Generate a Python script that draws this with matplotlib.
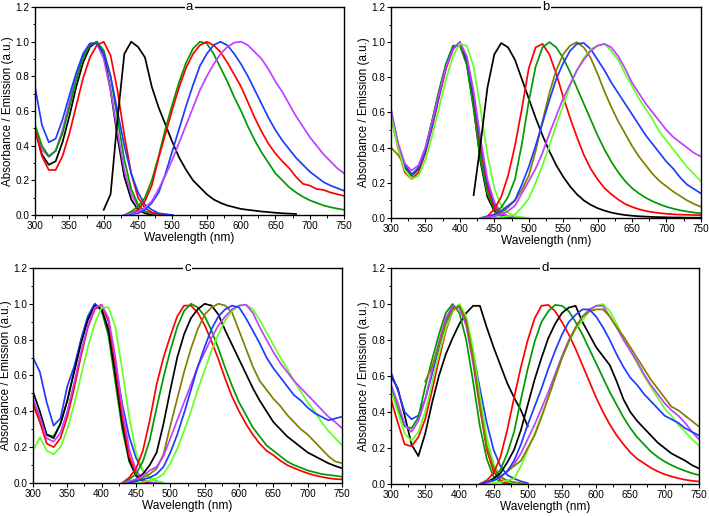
import numpy as np
import matplotlib
matplotlib.use('Agg')
import matplotlib.pyplot as plt
from matplotlib.ticker import MultipleLocator

plt.rcParams['font.family'] = ['Liberation Sans', 'DejaVu Sans']

N = None
ABS_WL = [300, 310, 320, 330, 340, 350, 360, 370, 380, 390, 400,
          410, 420, 430, 440, 450, 460, 470, 480, 490, 500]
EM_WL = [400, 410, 420, 430, 440, 450, 460, 470, 480, 490, 500, 510,
         520, 530, 540, 550, 560, 570, 580, 590, 600, 610, 620, 630,
         640, 650, 660, 670, 680, 690, 700, 710, 720, 730, 740, 750]

# ---------------- panel a ----------------
a_abs_blue = [0.74, 0.52, 0.42, 0.44, 0.55, 0.69, 0.82, 0.93, 0.99, 0.99, 0.93, 0.80, 0.60, 0.40, 0.24, 0.13, 0.06, 0.03, 0.01, 0.005, 0.0]
a_abs_green = [0.52, 0.40, 0.34, 0.37, 0.47, 0.62, 0.78, 0.91, 0.98, 1.00, 0.95, 0.80, 0.56, 0.32, 0.15, 0.06, 0.02, 0.01, 0.005, 0.0, 0.0]
a_abs_purple = [0.50, 0.38, 0.335, 0.37, 0.49, 0.65, 0.80, 0.93, 0.99, 0.99, 0.90, 0.72, 0.48, 0.26, 0.12, 0.05, 0.02, 0.01, 0.005, 0.0, 0.0]
a_abs_black = [0.50, 0.35, 0.29, 0.31, 0.42, 0.57, 0.74, 0.88, 0.97, 1.00, 0.93, 0.72, 0.45, 0.22, 0.09, 0.03, 0.01, 0.0, 0.0, 0.0, 0.0]
a_abs_red = [0.49, 0.34, 0.26, 0.26, 0.34, 0.47, 0.63, 0.79, 0.91, 0.98, 1.00, 0.92, 0.72, 0.46, 0.24, 0.10, 0.04, 0.015, 0.005, 0.0, 0.0]

a_em_black = [0.03, 0.12, 0.55, 0.93, 1.00, 0.97, 0.91, 0.74, 0.62, 0.52, 0.42, 0.33, 0.26, 0.20, 0.16, 0.12, 0.09, 0.07, 0.055, 0.045, 0.035, 0.03, 0.025, 0.02, 0.017, 0.013, 0.01, 0.008, 0.006, N, N, N, N, N, N, N]
a_em_green = [N, N, N, 0.0, 0.02, 0.05, 0.10, 0.20, 0.34, 0.50, 0.64, 0.77, 0.88, 0.96, 1.00, 0.99, 0.93, 0.85, 0.77, 0.68, 0.60, 0.51, 0.43, 0.36, 0.30, 0.24, 0.20, 0.16, 0.13, 0.105, 0.085, 0.07, 0.055, 0.045, 0.037, 0.03]
a_em_red = [N, N, N, 0.0, 0.01, 0.03, 0.08, 0.17, 0.33, 0.47, 0.61, 0.74, 0.85, 0.93, 0.98, 1.00, 0.98, 0.94, 0.88, 0.81, 0.74, 0.65, 0.56, 0.48, 0.41, 0.355, 0.31, 0.27, 0.22, 0.18, 0.17, 0.15, 0.145, 0.13, 0.12, 0.11]
a_em_blue = [N, N, N, 0.0, 0.005, 0.01, 0.03, 0.07, 0.13, 0.24, 0.37, 0.50, 0.63, 0.75, 0.86, 0.93, 0.98, 1.00, 0.98, 0.93, 0.87, 0.80, 0.72, 0.64, 0.56, 0.49, 0.43, 0.38, 0.33, 0.29, 0.25, 0.22, 0.19, 0.17, 0.155, 0.14]
a_em_purple = [N, N, N, 0.0, 0.01, 0.02, 0.04, 0.08, 0.15, 0.23, 0.32, 0.42, 0.52, 0.62, 0.72, 0.80, 0.87, 0.93, 0.97, 0.995, 1.00, 0.98, 0.94, 0.90, 0.84, 0.77, 0.71, 0.64, 0.57, 0.51, 0.45, 0.40, 0.35, 0.31, 0.27, 0.24]

# ---------------- panel b ----------------
b_abs_dgreen = [0.60, 0.42, 0.30, 0.24, 0.29, 0.40, 0.56, 0.73, 0.88, 0.98, 0.98, 0.87, 0.62, 0.33, 0.14, 0.05, 0.015, 0.005, 0.0, N, N]
b_abs_black = [0.60, 0.42, 0.29, 0.24, 0.28, 0.39, 0.55, 0.72, 0.87, 0.97, 0.99, 0.88, 0.63, 0.32, 0.12, 0.04, 0.01, 0.0, N, N, N]
b_abs_red = [0.58, 0.40, 0.26, 0.22, 0.26, 0.37, 0.52, 0.69, 0.85, 0.96, 1.00, 0.91, 0.70, 0.41, 0.18, 0.06, 0.02, 0.005, 0.0, N, N]
b_abs_purple = [0.62, 0.43, 0.31, 0.27, 0.30, 0.40, 0.55, 0.71, 0.86, 0.96, 1.00, 0.92, 0.72, 0.45, 0.22, 0.09, 0.03, 0.01, 0.005, 0.0, N]
b_abs_blue = [0.60, 0.42, 0.30, 0.25, 0.28, 0.38, 0.53, 0.70, 0.86, 0.96, 1.00, 0.91, 0.70, 0.43, 0.20, 0.08, 0.03, 0.01, 0.0, N, N]
b_abs_olive = [0.40, 0.36, 0.30, 0.24, 0.28, 0.39, 0.55, 0.72, 0.87, 0.97, 0.99, 0.90, 0.67, 0.38, 0.16, 0.06, 0.02, 0.005, 0.0, N, N]
b_abs_lgreen = [0.58, 0.40, 0.27, 0.22, 0.24, 0.33, 0.47, 0.63, 0.79, 0.92, 0.99, 0.98, 0.86, 0.62, 0.36, 0.17, 0.07, 0.03, 0.01, 0.005, 0.0]

b_em_black = [N, N, 0.13, 0.42, 0.74, 0.93, 0.995, 0.97, 0.90, 0.79, 0.68, 0.57, 0.47, 0.38, 0.30, 0.235, 0.18, 0.135, 0.10, 0.075, 0.056, 0.042, 0.031, 0.023, 0.017, 0.013, 0.010, 0.008, 0.006, 0.005, 0.004, 0.003, 0.003, 0.002, 0.002, 0.002]
b_em_red = [N, N, N, N, 0.01, 0.05, 0.12, 0.24, 0.41, 0.62, 0.85, 0.97, 0.99, 0.93, 0.82, 0.69, 0.57, 0.46, 0.36, 0.28, 0.22, 0.17, 0.135, 0.105, 0.08, 0.063, 0.05, 0.04, 0.033, 0.028, 0.024, 0.021, 0.019, 0.018, 0.017, 0.016]
b_em_dgreen = [N, N, N, N, 0.0, 0.02, 0.06, 0.12, 0.22, 0.42, 0.66, 0.86, 0.97, 1.00, 0.97, 0.91, 0.83, 0.74, 0.65, 0.56, 0.47, 0.39, 0.32, 0.26, 0.21, 0.17, 0.14, 0.115, 0.095, 0.078, 0.064, 0.053, 0.044, 0.037, 0.031, 0.027]
b_em_olive = [N, N, N, 0.0, 0.005, 0.01, 0.03, 0.06, 0.10, 0.16, 0.24, 0.38, 0.55, 0.71, 0.84, 0.93, 0.98, 1.00, 0.97, 0.91, 0.82, 0.72, 0.63, 0.55, 0.48, 0.41, 0.35, 0.30, 0.25, 0.21, 0.18, 0.15, 0.125, 0.10, 0.08, 0.064]
b_em_blue = [N, N, N, 0.0, 0.01, 0.02, 0.04, 0.07, 0.10, 0.19, 0.29, 0.41, 0.54, 0.67, 0.79, 0.88, 0.95, 0.99, 0.995, 0.96, 0.90, 0.84, 0.77, 0.71, 0.65, 0.59, 0.53, 0.47, 0.42, 0.37, 0.32, 0.28, 0.23, 0.19, 0.165, 0.14]
b_em_purple = [N, N, N, 0.0, 0.005, 0.01, 0.02, 0.04, 0.07, 0.14, 0.21, 0.28, 0.37, 0.48, 0.58, 0.68, 0.76, 0.84, 0.90, 0.95, 0.98, 0.99, 0.97, 0.92, 0.85, 0.77, 0.71, 0.65, 0.60, 0.55, 0.50, 0.46, 0.43, 0.40, 0.37, 0.35]
b_em_lgreen = [N, N, N, N, N, 0.0, 0.005, 0.01, 0.02, 0.06, 0.11, 0.20, 0.30, 0.41, 0.53, 0.64, 0.75, 0.84, 0.91, 0.96, 0.98, 0.99, 0.95, 0.90, 0.82, 0.75, 0.68, 0.62, 0.56, 0.49, 0.44, 0.39, 0.34, 0.29, 0.25, 0.21]

# ---------------- panel c ----------------
c_abs_dgreen = [0.46, 0.35, 0.27, 0.26, 0.33, 0.46, 0.63, 0.80, 0.93, 1.00, 0.96, 0.82, 0.56, 0.30, 0.12, 0.04, 0.01, 0.0, N, N, N]
c_abs_blue = [0.70, 0.62, 0.45, 0.32, 0.36, 0.54, 0.65, 0.80, 0.93, 1.00, 0.97, 0.86, 0.66, 0.44, 0.26, 0.14, 0.07, 0.03, 0.01, 0.0, N]
c_abs_black = [0.51, 0.40, 0.27, 0.25, 0.33, 0.46, 0.62, 0.78, 0.91, 0.99, 0.97, 0.85, 0.60, 0.33, 0.13, 0.04, 0.01, 0.0, N, N, N]
c_abs_red = [0.44, 0.34, 0.22, 0.20, 0.25, 0.37, 0.53, 0.71, 0.87, 0.97, 0.995, 0.90, 0.66, 0.37, 0.15, 0.05, 0.015, 0.0, N, N, N]
c_abs_purple = [0.47, 0.37, 0.25, 0.23, 0.28, 0.40, 0.56, 0.73, 0.88, 0.98, 0.995, 0.92, 0.70, 0.42, 0.19, 0.07, 0.02, 0.005, 0.0, N, N]
c_abs_lgreen = [0.18, 0.255, 0.18, 0.16, 0.20, 0.30, 0.44, 0.60, 0.76, 0.89, 0.98, 0.98, 0.87, 0.63, 0.37, 0.17, 0.07, 0.03, 0.01, 0.0, N]

c_em_red = [N, N, N, 0.0, 0.03, 0.08, 0.18, 0.35, 0.55, 0.70, 0.82, 0.93, 0.99, 0.99, 0.95, 0.88, 0.79, 0.69, 0.58, 0.48, 0.40, 0.33, 0.27, 0.22, 0.18, 0.155, 0.125, 0.10, 0.083, 0.068, 0.054, 0.043, 0.034, 0.027, 0.022, 0.02]
c_em_dgreen = [N, N, N, 0.0, 0.02, 0.05, 0.12, 0.24, 0.42, 0.59, 0.74, 0.87, 0.96, 1.00, 0.98, 0.93, 0.85, 0.75, 0.64, 0.54, 0.45, 0.38, 0.31, 0.26, 0.21, 0.18, 0.15, 0.12, 0.10, 0.085, 0.07, 0.06, 0.05, 0.045, 0.04, 0.035]
c_em_black = [N, N, N, N, 0.0, 0.02, 0.05, 0.10, 0.17, 0.33, 0.52, 0.70, 0.83, 0.92, 0.97, 1.00, 0.99, 0.94, 0.85, 0.77, 0.69, 0.61, 0.53, 0.46, 0.40, 0.34, 0.30, 0.26, 0.23, 0.20, 0.17, 0.15, 0.13, 0.11, 0.095, 0.082]
c_em_olive = [N, N, N, 0.0, 0.005, 0.01, 0.03, 0.05, 0.08, 0.16, 0.32, 0.47, 0.62, 0.75, 0.86, 0.94, 0.98, 1.00, 0.99, 0.95, 0.85, 0.75, 0.65, 0.57, 0.52, 0.47, 0.43, 0.38, 0.34, 0.30, 0.27, 0.23, 0.19, 0.15, 0.12, 0.11]
c_em_blue = [N, N, N, N, 0.0, 0.01, 0.02, 0.03, 0.05, 0.09, 0.17, 0.27, 0.39, 0.52, 0.65, 0.76, 0.86, 0.93, 0.97, 0.99, 0.98, 0.92, 0.85, 0.78, 0.70, 0.64, 0.59, 0.54, 0.49, 0.46, 0.42, 0.39, 0.37, 0.35, 0.36, 0.37]
c_em_purple = [N, N, N, 0.0, 0.01, 0.02, 0.04, 0.07, 0.09, 0.15, 0.25, 0.35, 0.45, 0.55, 0.65, 0.73, 0.81, 0.88, 0.93, 0.97, 0.99, 0.995, 0.95, 0.87, 0.80, 0.73, 0.67, 0.62, 0.57, 0.53, 0.49, 0.45, 0.41, 0.37, 0.34, 0.305]
c_em_lgreen = [N, N, N, N, N, 0.0, 0.005, 0.015, 0.025, 0.05, 0.11, 0.19, 0.29, 0.40, 0.52, 0.63, 0.74, 0.83, 0.91, 0.96, 0.99, 0.995, 0.97, 0.91, 0.84, 0.77, 0.70, 0.64, 0.57, 0.51, 0.45, 0.40, 0.34, 0.29, 0.25, 0.21]

# ---------------- panel d ----------------
d_abs_dgreen = [0.53, 0.42, 0.32, 0.31, 0.37, 0.54, 0.69, 0.83, 0.95, 1.00, 0.95, 0.80, 0.57, 0.32, 0.14, 0.04, 0.01, 0.0, N, N, N]
d_abs_blue = [0.62, 0.52, 0.40, 0.36, 0.38, 0.47, 0.61, 0.76, 0.90, 0.98, 0.98, 0.90, 0.73, 0.53, 0.34, 0.19, 0.10, 0.05, 0.03, 0.015, 0.005]
d_abs_black = [0.60, 0.53, 0.38, 0.22, 0.155, 0.28, 0.45, 0.60, 0.72, 0.81, 0.89, 0.95, 0.99, 0.99, 0.87, 0.76, 0.66, 0.56, 0.48, 0.41, 0.32]
d_abs_red = [0.47, 0.34, 0.22, 0.21, 0.26, 0.36, 0.52, 0.69, 0.85, 0.96, 0.995, 0.91, 0.70, 0.43, 0.19, 0.07, 0.02, 0.005, 0.0, N, N]
d_abs_purple = [0.55, 0.45, 0.33, 0.29, 0.35, 0.47, 0.63, 0.79, 0.92, 0.99, 0.98, 0.88, 0.67, 0.42, 0.21, 0.09, 0.035, 0.015, 0.005, 0.0, N]
d_abs_lgreen = [0.52, 0.40, 0.28, 0.24, 0.29, 0.40, 0.56, 0.72, 0.86, 0.96, 1.00, 0.93, 0.75, 0.49, 0.26, 0.11, 0.04, 0.015, 0.005, 0.0, N]
d_abs_olive = [N, N, N, N, N, 0.57, 0.65, 0.77, 0.89, 0.97, 0.99, 0.91, 0.70, 0.44, 0.21, 0.09, 0.04, 0.02, 0.01, 0.005, 0.0]

d_em_red = [N, N, N, 0.0, 0.02, 0.06, 0.15, 0.30, 0.48, 0.65, 0.80, 0.92, 0.99, 0.995, 0.96, 0.90, 0.83, 0.75, 0.66, 0.57, 0.48, 0.40, 0.33, 0.27, 0.22, 0.175, 0.14, 0.115, 0.09, 0.07, 0.054, 0.042, 0.032, 0.024, 0.018, 0.014]
d_em_dgreen = [N, N, N, 0.0, 0.01, 0.03, 0.08, 0.17, 0.29, 0.47, 0.64, 0.79, 0.90, 0.96, 0.995, 0.99, 0.96, 0.90, 0.83, 0.75, 0.67, 0.59, 0.51, 0.44, 0.37, 0.31, 0.26, 0.22, 0.18, 0.15, 0.125, 0.105, 0.088, 0.073, 0.06, 0.05]
d_em_black = [N, N, N, 0.0, 0.01, 0.03, 0.06, 0.12, 0.19, 0.30, 0.44, 0.58, 0.70, 0.81, 0.89, 0.95, 0.98, 0.99, 0.90, 0.83, 0.76, 0.71, 0.66, 0.57, 0.47, 0.40, 0.35, 0.31, 0.27, 0.23, 0.20, 0.17, 0.15, 0.13, 0.105, 0.087]
d_em_blue = [N, N, N, 0.0, 0.01, 0.02, 0.04, 0.07, 0.13, 0.22, 0.33, 0.43, 0.53, 0.64, 0.74, 0.83, 0.90, 0.94, 0.97, 0.97, 0.93, 0.87, 0.80, 0.72, 0.65, 0.59, 0.55, 0.50, 0.46, 0.42, 0.38, 0.36, 0.34, 0.31, 0.29, 0.27]
d_em_purple = [N, N, N, 0.0, 0.01, 0.02, 0.04, 0.07, 0.11, 0.17, 0.25, 0.33, 0.42, 0.51, 0.61, 0.71, 0.80, 0.87, 0.93, 0.97, 0.99, 0.99, 0.93, 0.87, 0.80, 0.74, 0.68, 0.61, 0.55, 0.50, 0.45, 0.41, 0.38, 0.34, 0.29, 0.25]
d_em_olive = [N, N, N, 0.0, 0.01, 0.02, 0.04, 0.07, 0.10, 0.13, 0.20, 0.27, 0.37, 0.48, 0.59, 0.70, 0.79, 0.87, 0.93, 0.96, 0.97, 0.97, 0.93, 0.87, 0.82, 0.76, 0.70, 0.64, 0.58, 0.53, 0.48, 0.43, 0.41, 0.38, 0.35, 0.32]
d_em_lgreen = [N, N, N, N, 0.0, 0.005, 0.01, 0.02, 0.03, 0.10, 0.19, 0.28, 0.38, 0.48, 0.59, 0.70, 0.79, 0.86, 0.91, 0.96, 0.99, 1.00, 0.96, 0.89, 0.81, 0.74, 0.67, 0.60, 0.54, 0.48, 0.42, 0.38, 0.33, 0.29, 0.25, 0.215]

# ---------------- styling ----------------
BLACK = '#000000'
RED = '#ff0000'
GREEN = '#009a00'
BLUE = '#1e3cff'
PURPLE = '#bf40ff'
OLIVE = '#7f7f00'
LGREEN = '#66ff22'

panels = [
    ('a', [0.0494, 0.5833, 0.436, 0.403],
     [(a_abs_black, BLACK), (a_abs_purple, PURPLE), (a_abs_green, GREEN), (a_abs_red, RED), (a_abs_blue, BLUE)],
     [(a_em_black, BLACK), (a_em_green, GREEN), (a_em_red, RED), (a_em_blue, BLUE), (a_em_purple, PURPLE)]),
    ('b', [0.5515, 0.5775, 0.437, 0.409],
     [(b_abs_olive, OLIVE), (b_abs_black, BLACK), (b_abs_dgreen, GREEN), (b_abs_red, RED), (b_abs_blue, BLUE), (b_abs_purple, PURPLE), (b_abs_lgreen, LGREEN)],
     [(b_em_black, BLACK), (b_em_red, RED), (b_em_dgreen, GREEN), (b_em_olive, OLIVE), (b_em_blue, BLUE), (b_em_lgreen, LGREEN), (b_em_purple, PURPLE)]),
    ('c', [0.0465, 0.064, 0.436, 0.4167],
     [(c_abs_dgreen, GREEN), (c_abs_blue, BLUE), (c_abs_black, BLACK), (c_abs_red, RED), (c_abs_purple, PURPLE), (c_abs_lgreen, LGREEN)],
     [(c_em_red, RED), (c_em_dgreen, GREEN), (c_em_black, BLACK), (c_em_olive, OLIVE), (c_em_lgreen, LGREEN), (c_em_purple, PURPLE), (c_em_blue, BLUE)]),
    ('d', [0.5515, 0.062, 0.434, 0.4186],
     [(d_abs_black, BLACK), (d_abs_blue, BLUE), (d_abs_dgreen, GREEN), (d_abs_purple, PURPLE), (d_abs_red, RED), (d_abs_lgreen, LGREEN), (d_abs_olive, OLIVE)],
     [(d_em_red, RED), (d_em_dgreen, GREEN), (d_em_black, BLACK), (d_em_lgreen, LGREEN), (d_em_purple, PURPLE), (d_em_olive, OLIVE), (d_em_blue, BLUE)]),
]


def arr(v):
    return np.array([np.nan if x is None else x for x in v], dtype=float)


fig = plt.figure(figsize=(7.09, 5.16), dpi=100)
for label, rect, abs_curves, em_curves in panels:
    ax = fig.add_axes(rect)
    for vals, col in abs_curves:
        ax.plot(ABS_WL, arr(vals), color=col, lw=1.25)
    for vals, col in em_curves:
        ax.plot(EM_WL, arr(vals), color=col, lw=1.25)
    ax.set_xlim(300, 750)
    ax.set_ylim(0, 1.2)
    ax.xaxis.set_major_locator(MultipleLocator(50))
    ax.xaxis.set_minor_locator(MultipleLocator(25))
    ax.yaxis.set_major_locator(MultipleLocator(0.2))
    ax.yaxis.set_minor_locator(MultipleLocator(0.1))
    ax.yaxis.set_major_formatter(matplotlib.ticker.FormatStrFormatter('%.1f'))
    ax.tick_params(which='major', direction='out', length=3, width=0.8, labelsize=7.2, pad=1.2)
    ax.tick_params(which='minor', direction='out', length=1.8, width=0.7)
    for s in ax.spines.values():
        s.set_linewidth(1.0)
    ax.set_xlabel('Wavelength (nm)', fontsize=8.6, labelpad=1)
    ax.set_ylabel('Absorbance / Emission (a.u.)', fontsize=8.4, labelpad=0.8)
    ax.text(0.5, 1.0, label, transform=ax.transAxes, ha='center', va='center',
            fontsize=9.5, bbox=dict(facecolor='white', edgecolor='none', pad=1.0), zorder=5)

fig.savefig('out.png', dpi=100)
